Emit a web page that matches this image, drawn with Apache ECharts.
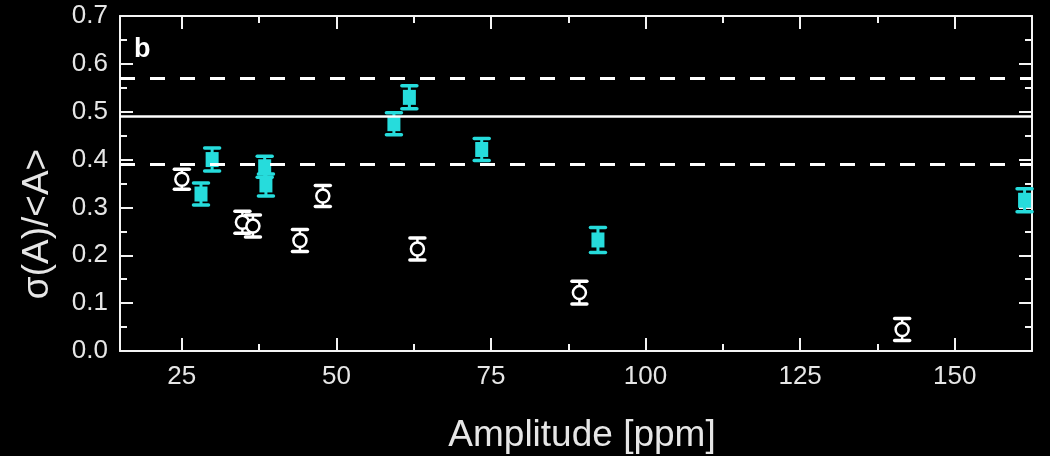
<!DOCTYPE html>
<html>
<head>
<meta charset="utf-8">
<title>Amplitude scatter</title>
<script src="https://cdn.jsdelivr.net/npm/echarts@6/dist/echarts.min.js"></script>
<style>
  html, body { margin: 0; padding: 0; background: #000; }
  #chart { width: 1050px; height: 456px; }
</style>
</head>
<body>
<div id="chart"></div>
<script>
// Axis ranges and tick positions
const xMin = 15, xMax = 162.5;
const xMajorTicks = [25, 50, 75, 100, 125, 150];
const xMinorTicks = [37.5, 62.5, 87.5, 112.5, 137.5, 162.5];
const yMin = 0, yMax = 0.7, yStep = 0.1;

// Open circles: amplitude [ppm], sigma(A)/<A>, error
const openX   = [25.0, 34.8, 36.5, 44.1, 47.8, 63.1, 89.3, 141.5];
const openY   = [0.359, 0.269, 0.261, 0.231, 0.324, 0.213, 0.122, 0.045];
const openErr = [0.021, 0.023, 0.023, 0.023, 0.022, 0.023, 0.024, 0.023];

// Filled squares: amplitude [ppm], sigma(A)/<A>, error
const fillX   = [28.1, 29.9, 38.4, 38.6, 59.3, 61.8, 73.5, 92.3, 161.3];
const fillY   = [0.328, 0.400, 0.385, 0.347, 0.475, 0.530, 0.421, 0.232, 0.315];
const fillErr = [0.023, 0.024, 0.022, 0.023, 0.023, 0.024, 0.023, 0.026, 0.024];

// Mean level and its band
const meanLevel = 0.487;
const bandLow = 0.394;
const bandHigh = 0.574;

const AXIS = '#f4f4f4';
const LABEL = '#e6e6e6';
const CYAN = '#26dcdc';
const FONT = '"Liberation Sans", Arial, Helvetica, sans-serif';

const openData = openX.map((x, i) => [x, openY[i], openErr[i]]);
const fillData = fillX.map((x, i) => [x, fillY[i], fillErr[i]]);

function errorBars(data, color, stem, capW) {
  return {
    type: 'custom',
    xAxisIndex: 0, yAxisIndex: 0,
    z: 3, silent: true,
    encode: { x: 0, y: 1 },
    data: data,
    renderItem(params, api) {
      const x = api.value(0), y = api.value(1), e = api.value(2);
      const hi = api.coord([x, y + e]);
      const lo = api.coord([x, y - e]);
      const half = 7.5;
      const capStyle = { stroke: color, lineWidth: capW, lineCap: 'round' };
      return {
        type: 'group',
        children: [
          { type: 'line', shape: { x1: hi[0], y1: hi[1], x2: lo[0], y2: lo[1] },
            style: { stroke: color, lineWidth: stem } },
          { type: 'line', shape: { x1: hi[0] - half, y1: hi[1], x2: hi[0] + half, y2: hi[1] },
            style: capStyle },
          { type: 'line', shape: { x1: lo[0] - half, y1: lo[1], x2: lo[0] + half, y2: lo[1] },
            style: capStyle }
        ]
      };
    }
  };
}

function xAxisDef(position, ticks, len, showLine, showLabels) {
  return {
    type: 'value', position: position, min: xMin, max: xMax,
    axisLine: { show: showLine, onZero: false, lineStyle: { color: AXIS, width: 2 } },
    axisTick: { show: true, inside: true, length: len, customValues: ticks,
                lineStyle: { color: AXIS, width: 2 } },
    axisLabel: { show: showLabels, customValues: ticks, color: LABEL,
                 fontFamily: FONT, fontSize: 26, margin: 13 },
    splitLine: { show: false }
  };
}

function yAxisDef(position, showLabels) {
  return {
    type: 'value', position: position, min: yMin, max: yMax, interval: yStep,
    axisLine: { show: true, onZero: false, lineStyle: { color: AXIS, width: 2 } },
    axisTick: { show: true, inside: true, length: 13, lineStyle: { color: AXIS, width: 2 } },
    minorTick: { show: true, splitNumber: 2, length: 7, lineStyle: { color: AXIS, width: 2 } },
    axisLabel: { show: showLabels, color: LABEL, fontFamily: FONT, fontSize: 26, margin: 12,
                 formatter: v => v.toFixed(1) },
    splitLine: { show: false }
  };
}

const chart = echarts.init(document.getElementById('chart'), null, { renderer: 'canvas' });

chart.setOption({
  backgroundColor: '#000',
  animation: false,
  grid: { left: 120, top: 16, width: 912, height: 335, outerBoundsMode: 'none' },
  xAxis: [
    xAxisDef('bottom', xMajorTicks, 13, true, true),
    xAxisDef('bottom', xMinorTicks, 7, false, false),
    xAxisDef('top', xMajorTicks, 13, true, false),
    xAxisDef('top', xMinorTicks, 7, false, false)
  ],
  yAxis: [
    yAxisDef('left', true),
    yAxisDef('right', false)
  ],
  graphic: [
    { type: 'text', left: 134, top: 36, z: 10,
      style: { text: 'b', fill: '#ffffff', font: 'bold 27px ' + FONT } },
    { type: 'text', x: 582, y: 436, z: 10,
      style: { text: 'Amplitude [ppm]', fill: LABEL, font: '37px ' + FONT,
               align: 'center', verticalAlign: 'middle' } },
    { type: 'text', x: 38, y: 224, rotation: Math.PI / 2, z: 10,
      style: { text: 'σ(A)/<A>', fill: LABEL, font: '37px ' + FONT,
               align: 'center', verticalAlign: 'middle' } }
  ],
  series: [
    {
      type: 'line', xAxisIndex: 0, yAxisIndex: 0, data: [], z: 2, silent: true,
      markLine: {
        silent: true, symbol: 'none', label: { show: false }, animation: false,
        data: [
          { yAxis: meanLevel, lineStyle: { color: '#ffffff', width: 2.5, type: 'solid' } },
          { yAxis: bandHigh, lineStyle: { color: '#ffffff', width: 3, type: [15, 15] } },
          { yAxis: bandLow, lineStyle: { color: '#ffffff', width: 3, type: [15, 15] } }
        ]
      }
    },
    errorBars(openData, '#ffffff', 2.5, 3.5),
    errorBars(fillData, CYAN, 3, 3.5),
    {
      type: 'scatter', xAxisIndex: 0, yAxisIndex: 0, z: 4, silent: true,
      symbol: 'circle', symbolSize: 13,
      itemStyle: { color: '#000', borderColor: '#ffffff', borderWidth: 2.5, opacity: 1 },
      data: openData.map(d => [d[0], d[1]])
    },
    {
      type: 'scatter', xAxisIndex: 0, yAxisIndex: 0, z: 4, silent: true,
      symbol: 'rect', symbolSize: [13, 15],
      itemStyle: { color: CYAN, opacity: 1 },
      data: fillData.map(d => [d[0], d[1]])
    }
  ]
});
</script>
</body>
</html>
